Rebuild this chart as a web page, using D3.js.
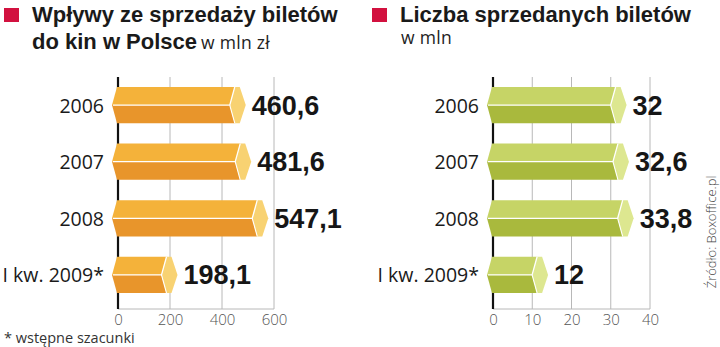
<!DOCTYPE html>
<html><head><meta charset="utf-8">
<script src="https://cdn.jsdelivr.net/npm/d3@7"></script>
<style>body{margin:0;background:#fff}svg{display:block}</style>
</head><body><svg id="c" width="720" height="347"></svg>
<script>
const categories = ["2006", "2007", "2008", "I kw. 2009*"];
const revenue = [460.6, 481.6, 547.1, 198.1];
const tickets = [32, 32.6, 33.8, 12];
const revenueTicks = [0, 200, 400, 600];
const ticketTicks = [0, 10, 20, 30, 40];
const fmt = v => String(v).replace(".", ",");

const svg = d3.select("#c");
const FONT = "'Liberation Sans', Arial, sans-serif";
const OPEN = "'Open Sans', sans-serif";

function title(x, lines, unit, unitPos) {
  svg.append("rect").attr("x", x).attr("y", 8).attr("width", 15).attr("height", 14).attr("fill", "#d2113f");
  lines.forEach((l, i) => svg.append("text").attr("x", x + 28).attr("y", 22 + i * 27)
    .attr("font-family", FONT).attr("font-weight", "bold").attr("font-size", 22).attr("fill", "#1a1a1a").text(l));
  svg.append("text").attr("x", unitPos[0]).attr("y", unitPos[1]).attr("font-family", OPEN)
    .attr("font-size", 17.5).attr("letter-spacing", 0.3).attr("fill", "#222").text(unit);
}
title(4, ["Wpływy ze sprzedaży biletów", "do kin w Polsce"], "w mln zł", [201, 49]);
title(372, ["Liczba sprzedanych biletów"], "w mln", [401, 44]);

function panel(values, ticks, x0, x1, labelRight, col) {
  const x = d3.scaleLinear().domain([ticks[0], ticks[ticks.length - 1]]).range([x0, x1]);
  const y = d3.scaleBand().domain(categories).range([87, 293]).paddingInner(0.36).paddingOuter(0);
  const g = svg.append("g");
  g.selectAll("line.grid").data(ticks.slice(1)).join("line")
    .attr("x1", d => x(d)).attr("x2", d => x(d)).attr("y1", 77).attr("y2", 309)
    .attr("stroke", "#b8b8b8").attr("stroke-width", 1);
  g.append("line").attr("x1", x0).attr("x2", x1).attr("y1", 309).attr("y2", 309).attr("stroke", "#b8b8b8");
  g.append("line").attr("x1", x0).attr("x2", x0).attr("y1", 77).attr("y2", 309).attr("stroke", "#111").attr("stroke-width", 2.2);
  const ax = g.append("g").attr("transform", "translate(0,309)").call(d3.axisBottom(x).tickValues(ticks).tickSize(0).tickPadding(5));
  ax.select(".domain").remove();
  ax.selectAll("text").attr("font-family", OPEN).attr("font-weight", 300).attr("font-size", 15).attr("fill", "#555");
  categories.forEach((c, i) => {
    const top = y(c), bot = top + y.bandwidth(), mid = (top + bot) / 2;
    const xv = x(values[i]), xs = x0 - 1, d = 5;
    g.append("polygon").attr("points", [[xs, top], [xv - 3, top], [xv - 3 - d, mid], [xs - d, mid]].join(" ")).attr("fill", col[0]);
    g.append("polygon").attr("points", [[xs - d, mid], [xv - 3 - d, mid], [xv - 3, bot], [xs, bot]].join(" ")).attr("fill", col[1]);
    g.append("polygon").attr("points", [[xv - 3, top], [xv + 2, top], [xv + 2 + d + 1, mid], [xv + 2, bot], [xv - 3, bot], [xv - 3 - d, mid]].join(" "))
      .attr("fill", col[2]);
    g.append("polyline").attr("points", [[xs - d + 1, mid], [xv - 3 - d, mid], [xv - 3, top]].join(" ")).attr("fill", "none").attr("stroke", "#fff").attr("stroke-width", 1.3);
    g.append("line").attr("x1", xv - 3 - d).attr("y1", mid).attr("x2", xv - 3).attr("y2", bot).attr("stroke", "#fff").attr("stroke-width", 1.1);
    g.append("text").attr("x", xv + 14).attr("y", mid + 9.5).attr("font-family", FONT).attr("font-weight", "bold")
      .attr("font-size", 27).attr("fill", "#161616").text(fmt(values[i]));
    g.append("text").attr("x", labelRight).attr("y", mid + 7.5).attr("text-anchor", "end").attr("font-family", OPEN)
      .attr("font-size", 19.5).attr("fill", "#1a1a1a").text(c);
  });
}
panel(revenue, revenueTicks, 118, 274, 104, ["#f4b23a", "#e8952b", "#f8d272"]);
panel(tickets, ticketTicks, 493, 650, 479, ["#c6d466", "#a9b93d", "#dde790"]);

svg.append("text").attr("x", 4).attr("y", 343).attr("font-family", OPEN).attr("font-size", 14.5).attr("fill", "#333").text("* wstępne szacunki");
svg.append("text").attr("transform", "translate(716,232) rotate(-90)").attr("text-anchor", "middle")
  .attr("font-family", OPEN).attr("font-weight", 300).attr("font-size", 13).attr("fill", "#444").text("Źródło: Boxoffice.pl");
</script></body></html>
